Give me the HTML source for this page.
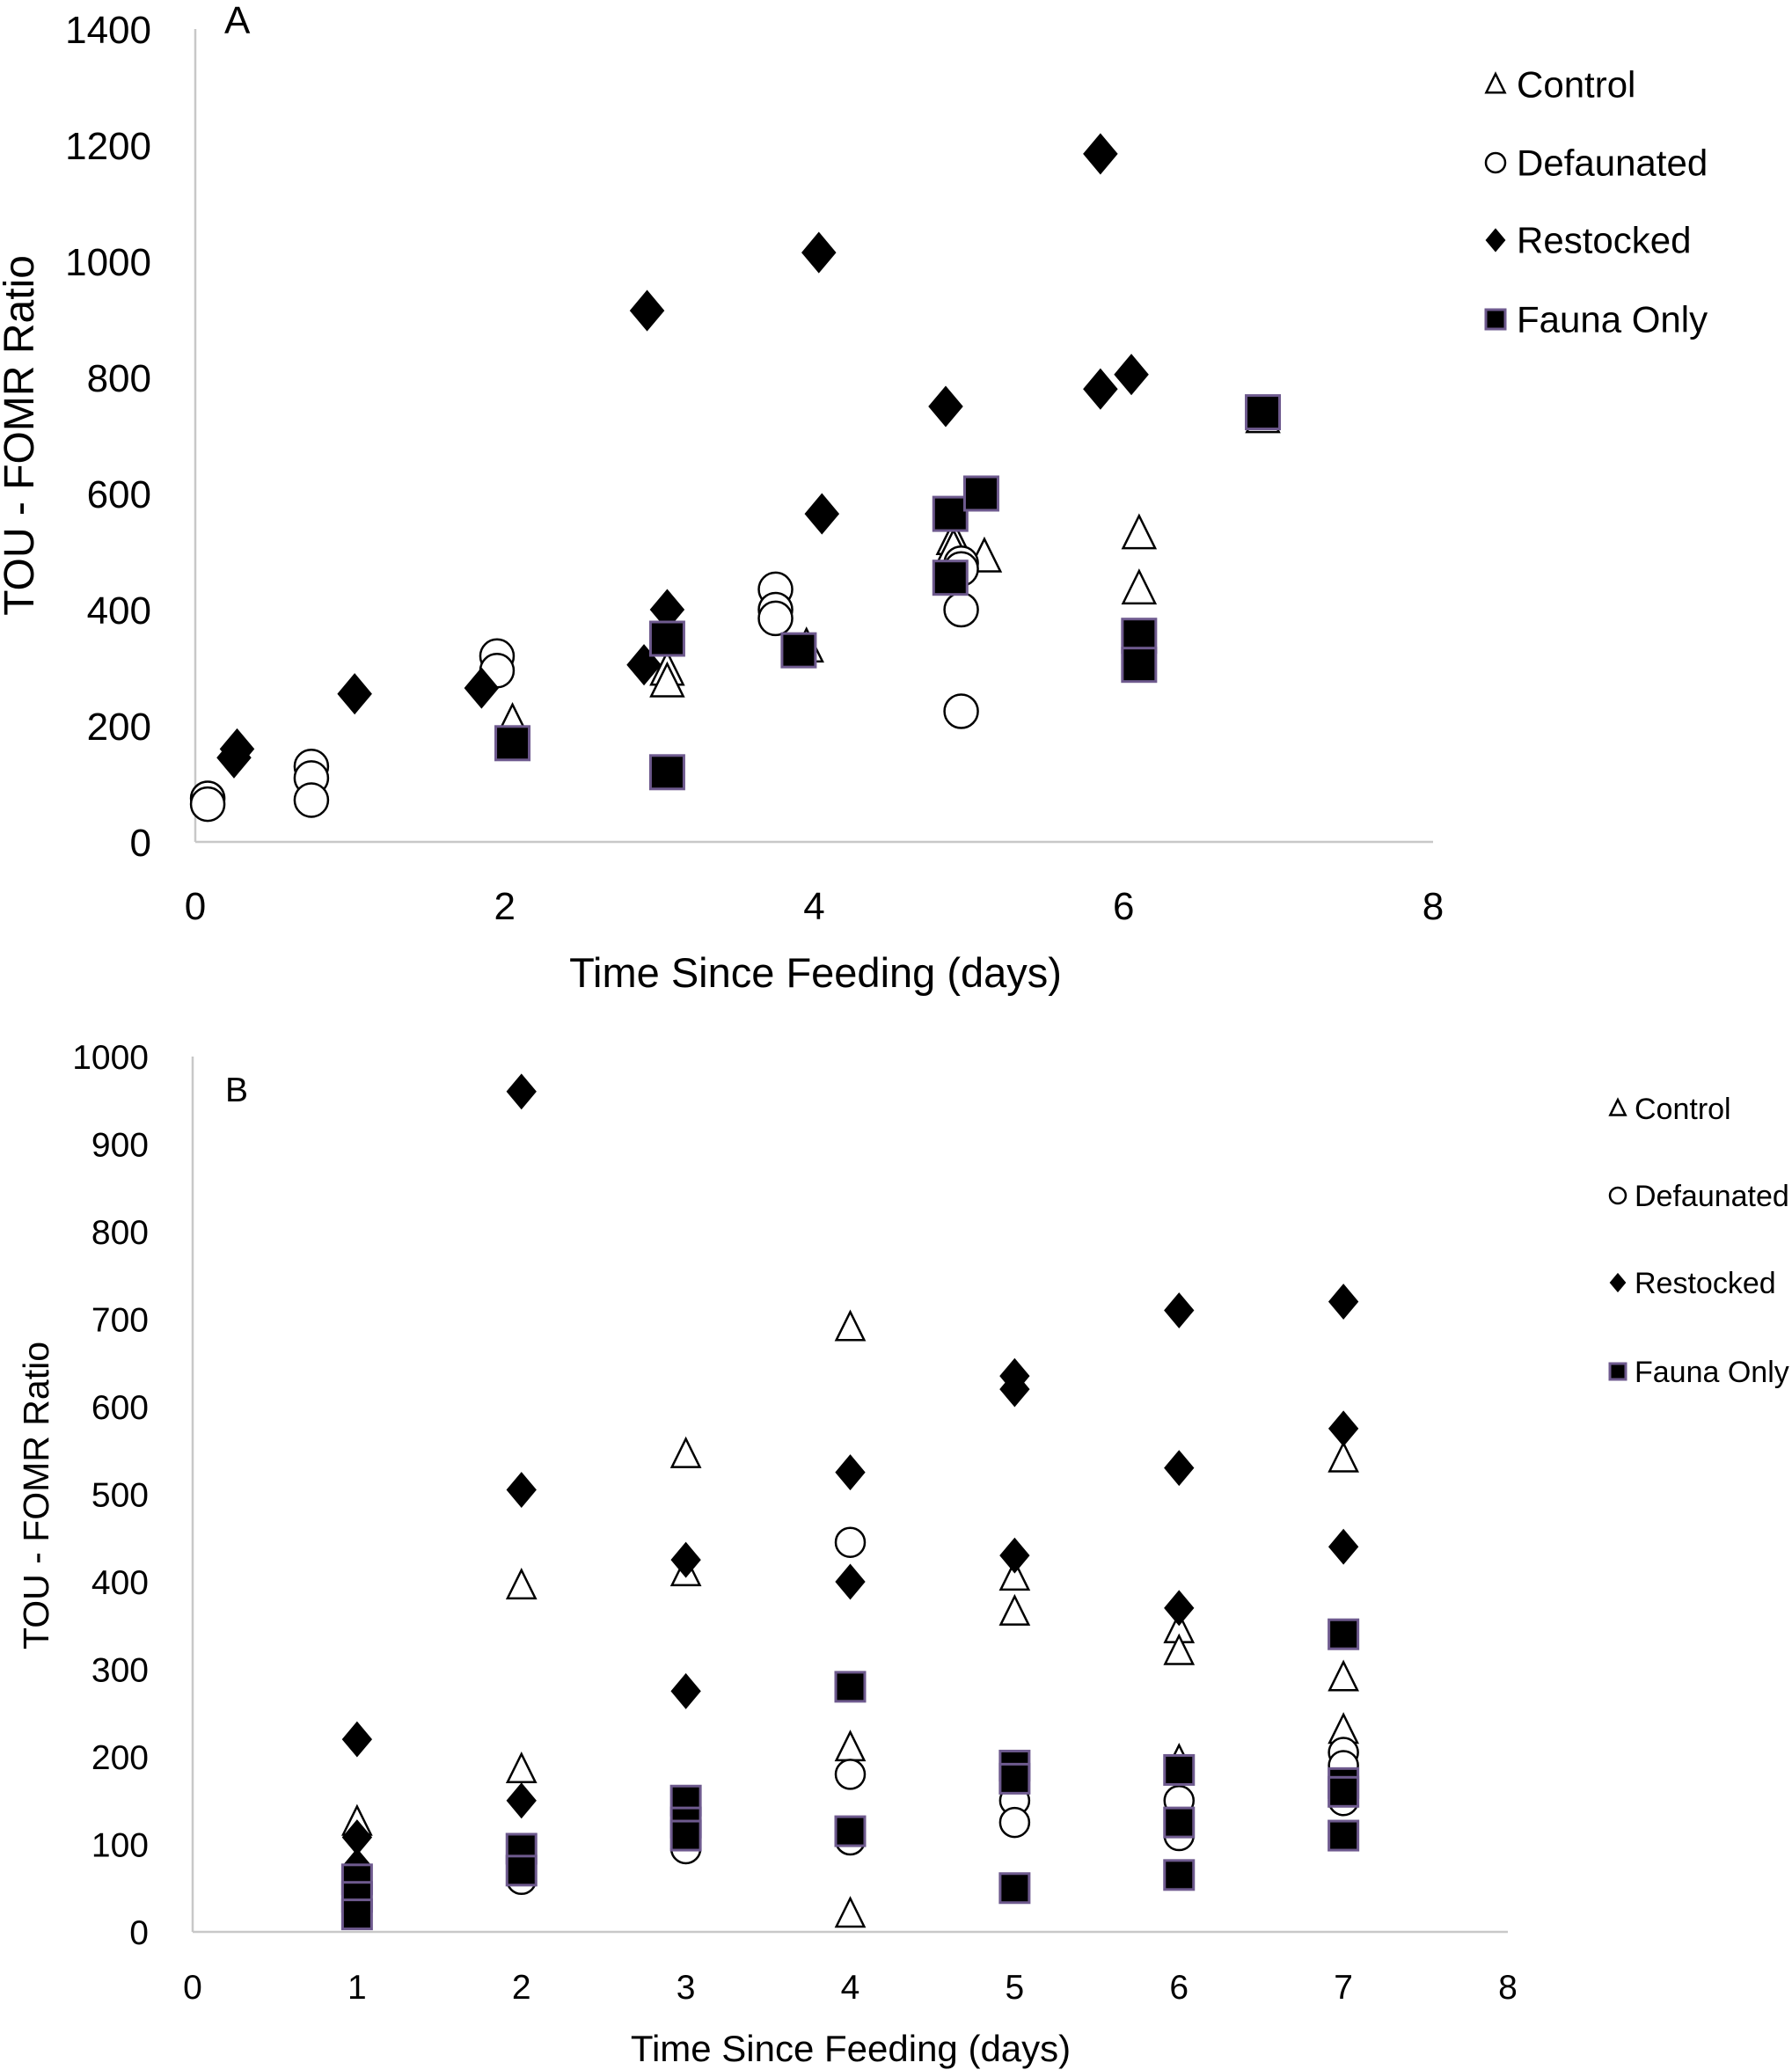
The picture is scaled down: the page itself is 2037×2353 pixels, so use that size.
<!DOCTYPE html>
<html><head><meta charset="utf-8"><style>
html,body{margin:0;padding:0;background:#fff;}
svg{display:block;font-family:"Liberation Sans",sans-serif;}
</style></head><body>
<svg id="chart" width="2037" height="2353" viewBox="0 0 2037 2353" xmlns="http://www.w3.org/2000/svg"></svg>
<script>
// Panel A data
const aRestockedX=[0.27,0.25,1.03,1.85,2.92,2.9,3.05,4.03,4.05,4.85,5.85,5.85,6.05];
const aRestockedY=[160,145,255,265,915,305,400,1015,565,750,1185,780,805];
const aDefaunatedX=[0.08,0.08,0.75,0.75,0.75,1.95,1.95,3.75,3.75,3.75,4.95,4.95,4.95,4.95];
const aDefaunatedY=[75,65,130,110,72,320,295,435,400,385,480,470,400,225];
const aControlX=[2.05,3.05,3.05,3.95,4.9,4.9,5.1,6.1,6.1,6.9];
const aControlY=[205,295,275,335,520,505,490,530,435,730];
const aFaunaX=[2.05,3.05,3.05,3.9,4.88,4.88,5.08,6.1,6.1,6.9];
const aFaunaY=[170,350,120,330,565,455,600,355,305,740];
const aXTicks=[0,2,4,6,8];
const aYTicks=[0,200,400,600,800,1000,1200,1400];
// Panel B data
const bRestockedX=[1,1,1,2,2,2,3,3,4,4,5,5,5,6,6,6,7,7,7];
const bRestockedY=[220,108,75,960,505,150,425,275,525,400,635,620,430,710,530,370,720,575,440];
const bControlX=[1,2,2,3,3,4,4,4,5,5,6,6,6,7,7,7];
const bControlY=[125,395,185,545,410,690,210,20,405,365,345,320,195,540,290,230];
const bDefaunatedX=[2,3,4,4,4,5,5,6,6,7,7,7];
const bDefaunatedY=[60,95,445,180,105,150,125,150,110,205,190,150];
const bFaunaX=[1,1,1,2,2,3,3,3,4,4,5,5,5,6,6,6,7,7,7,7];
const bFaunaY=[60,40,20,95,70,150,125,110,280,115,190,175,50,185,125,65,340,170,160,110];
const bXTicks=[0,1,2,3,4,5,6,7,8];
const bYTicks=[0,100,200,300,400,500,600,700,800,900,1000];

const NS="http://www.w3.org/2000/svg";
const svg=document.getElementById('chart');
function el(tag,attrs,parent,txt){const e=document.createElementNS(NS,tag);for(const k in attrs)e.setAttribute(k,attrs[k]);if(txt!==undefined)e.textContent=txt;(parent||svg).appendChild(e);return e;}

function marker(g,type,cx,cy,s){
  let m;
  if(type==='circle'){m=el('circle',{cx:cx,cy:cy,r:s/2,fill:'#fff',stroke:'#000','stroke-width':2.5},g);}
  else if(type==='tri'){m=el('polygon',{points:`${cx},${cy-s*0.55} ${cx-s*0.48},${cy+s*0.42} ${cx+s*0.48},${cy+s*0.42}`,fill:'#fff',stroke:'#000','stroke-width':2.5},g);}
  else if(type==='diamond'){m=el('polygon',{points:`${cx},${cy-s*0.62} ${cx+s*0.52},${cy} ${cx},${cy+s*0.62} ${cx-s*0.52},${cy}`,fill:'#000'},g);}
  else {m=el('rect',{x:cx-s/2,y:cy-s/2,width:s,height:s,fill:'#000',stroke:'#6e5a8e','stroke-width':3},g);}
  return m;
}

function panel(cfg){
  const g=el('g',{});
  
  
  const sx=v=>cfg.x0+(v-cfg.xmin)/(cfg.xmax-cfg.xmin)*(cfg.x1-cfg.x0);
  const sy=v=>cfg.y0-(v-cfg.ymin)/(cfg.ymax-cfg.ymin)*(cfg.y0-cfg.y1);
  const ya=el('line',{x1:cfg.x0,y1:cfg.y1,x2:cfg.x0,y2:cfg.y0,stroke:'#c8c8c8','stroke-width':2.5},g);
  
  const xa=el('line',{x1:cfg.x0,y1:cfg.y0,x2:cfg.x1,y2:cfg.y0,stroke:'#c8c8c8','stroke-width':2.5},g);
  
  cfg.yTicks.forEach(t=>{const e=el('text',{x:cfg.x0-50,y:sy(t)+cfg.tf*0.36,'font-size':cfg.tf,'text-anchor':'end',fill:'#000'},g,String(t));
    });
  cfg.xTicks.forEach(t=>{const e=el('text',{x:sx(t),y:cfg.y0+cfg.xtOff,'font-size':cfg.tf,'text-anchor':'middle',fill:'#000'},g,String(t));
    });
  const xt=el('text',{x:cfg.xtx,y:cfg.xty,'font-size':cfg.titleF,'text-anchor':'middle',fill:'#000'},g,'Time Since Feeding (days)');
  
  const yt=el('text',{x:0,y:0,'font-size':cfg.yTitleF,'text-anchor':'middle',fill:'#000',transform:`translate(${cfg.ytx},${cfg.yty}) rotate(-90)`},g,'TOU - FOMR Ratio');
  
  const pl=el('text',{x:cfg.lx,y:cfg.ly,'font-size':cfg.tf,fill:'#000'},g,cfg.label);
  
  cfg.series.forEach(s=>{
    s.xs.forEach((xv,i)=>{const m=marker(g,s.type,sx(xv),sy(s.ys[i]),cfg.ms);
      
      });
  });
  cfg.series.forEach((s,i)=>{const ly=cfg.legY[i];
    const lm=marker(g,s.type,cfg.legMX,ly,cfg.legMS);
    
    
    const lt=el('text',{x:cfg.legTX,y:ly+cfg.legF*0.35,'font-size':cfg.legF,fill:'#000'},g,s.label);
    
    
  });
}

panel({name:'panel-a',x0:222,x1:1629,y0:957,y1:33,xmin:0,xmax:8,ymin:0,ymax:1400,
  xTicks:aXTicks,yTicks:aYTicks,tf:44,xtOff:88,titleF:47,xtx:927,xty:1122,yTitleF:48,ytx:38,yty:495,
  lx:255,ly:38,label:'A',ms:38,legMX:1700,legMS:22,legTX:1724,legF:42,legY:[96,185,273,363],
  series:[
   {type:'tri',xs:aControlX,ys:aControlY,label:'Control',mname:'control-point'},
   {type:'circle',xs:aDefaunatedX,ys:aDefaunatedY,label:'Defaunated',mname:'defaunated-point'},
   {type:'diamond',xs:aRestockedX,ys:aRestockedY,label:'Restocked',mname:'restocked-point'},
   {type:'square',xs:aFaunaX,ys:aFaunaY,label:'Fauna Only',mname:'fauna-only-point'}]});

panel({name:'panel-b',x0:219,x1:1714,y0:2196,y1:1201,xmin:0,xmax:8,ymin:0,ymax:1000,
  xTicks:bXTicks,yTicks:bYTicks,tf:39,xtOff:76,titleF:42,xtx:967,xty:2343,yTitleF:41,ytx:55,yty:1700,
  lx:256,ly:1252,label:'B',ms:33,legMX:1839,legMS:18,legTX:1858,legF:34,legY:[1260,1359,1458,1559],
  series:[
   {type:'tri',xs:bControlX,ys:bControlY,label:'Control',mname:'control-point'},
   {type:'circle',xs:bDefaunatedX,ys:bDefaunatedY,label:'Defaunated',mname:'defaunated-point'},
   {type:'diamond',xs:bRestockedX,ys:bRestockedY,label:'Restocked',mname:'restocked-point'},
   {type:'square',xs:bFaunaX,ys:bFaunaY,label:'Fauna Only',mname:'fauna-only-point'}]});
</script>
</body></html>
